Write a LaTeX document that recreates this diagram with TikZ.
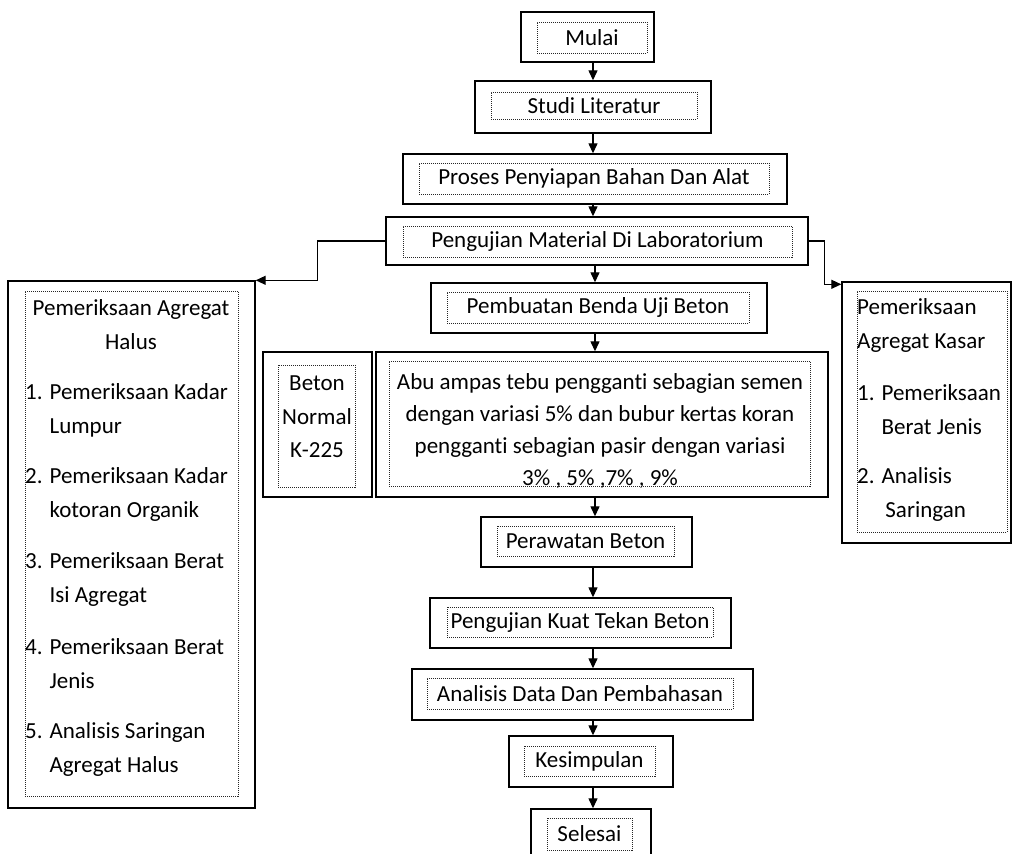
\documentclass[tikz,border=0pt]{standalone}
\usepackage{fontspec}
\setmainfont{Carlito}[Ligatures=NoCommon]
\usetikzlibrary{arrows.meta}
\begin{document}
\begin{tikzpicture}[x=1pt,y=-1pt,
  outerbox/.style={draw=black,line width=1.4pt,inner sep=0pt,minimum width=#1},
  innerbox/.style={draw=black!85,line width=0.9pt,dash pattern=on 1pt off 1pt,inner sep=0pt,minimum width=#1},
  txt/.style={inner sep=0pt,font=\fontsize{23}{34}\selectfont},
  arr/.style={line width=1.3pt,-{Triangle[length=10pt,width=9pt]}}
]
\useasboundingbox (0,0) rectangle (1012,854);
% main column
\node[outerbox=133,minimum height=50] (mulai) at (587.5,37) {};
\node[innerbox=110,minimum height=31,txt] (mulaiT) at (592,37.5) {Mulai};
\node[outerbox=236,minimum height=52] (studi) at (593,107) {};
\node[innerbox=206,minimum height=27,txt] (studiT) at (594,105.5) {Studi Literatur};
\node[outerbox=384,minimum height=50] (proses) at (595,179) {};
\node[innerbox=350,minimum height=31,txt] (prosesT) at (594,178.5) {Proses Penyiapan Bahan Dan Alat};
\node[outerbox=422,minimum height=48] (peng) at (597,241) {};
\node[innerbox=389,minimum height=31,txt] (pengT) at (597.5,241.5) {Pengujian Material Di Laboratorium};
\node[outerbox=336,minimum height=50] (buat) at (599,308) {};
\node[innerbox=302,minimum height=31,txt] (buatT) at (598,307.5) {Pembuatan Benda Uji Beton};
\node[outerbox=109,minimum height=145] (beton) at (317.5,424.5) {};
\node[innerbox=77,minimum height=122] (betonI) at (316.5,426) {};
\node[txt,align=center,font=\fontsize{23}{33.5}\selectfont] (betonT) at (317,417) {Beton\\Normal\\K-225};
\node[outerbox=452,minimum height=145] (abu) at (602,424.5) {};
\node[innerbox=421,minimum height=125] (abuI) at (599.5,423.5) {};
\node[txt,align=center,font=\fontsize{23}{32}\selectfont] (abuT) at (600,431) {Abu ampas tebu pengganti sebagian semen\\dengan variasi 5\% dan bubur kertas koran\\pengganti sebagian pasir dengan variasi\\3\% , 5\% ,7\% , 9\%};
\node[outerbox=211,minimum height=50] (rawat) at (586.5,542) {};
\node[innerbox=177,minimum height=30,txt] (rawatT) at (585.5,541) {Perawatan Beton};
\node[outerbox=301,minimum height=50] (kuat) at (580.5,623) {};
\node[innerbox=266,minimum height=30,txt] (kuatT) at (580,622) {Pengujian Kuat Tekan Beton};
\node[outerbox=341,minimum height=51] (anal) at (582.5,694.5) {};
\node[innerbox=306,minimum height=31,txt] (analT) at (580,693.5) {Analisis Data Dan Pembahasan};
\node[outerbox=164,minimum height=51] (simp) at (591,761.5) {};
\node[innerbox=131,minimum height=30,txt] (simpT) at (589.5,761) {Kesimpulan};
\node[outerbox=120,minimum height=61] (selesai) at (591,839.5) {};
\node[innerbox=85,minimum height=32,txt] (selesaiT) at (589.5,834) {Selesai};
% left box
\node[outerbox=247,minimum height=527] (lbox) at (131.5,544.5) {};
\node[innerbox=213,minimum height=505] (lboxI) at (131.5,543.5) {};
\node[txt,align=center] (lh) at (131,325) {Pemeriksaan Agregat\\Halus};
\node[txt,align=left,anchor=west] (l1) at (25,410) {1. Pemeriksaan Kadar\\\phantom{1. }Lumpur};
\node[txt,align=left,anchor=west] (l2) at (25,494) {2. Pemeriksaan Kadar\\\phantom{2. }kotoran Organik};
\node[txt,align=left,anchor=west] (l3) at (25,579) {3. Pemeriksaan Berat\\\phantom{3. }Isi Agregat};
\node[txt,align=left,anchor=west] (l4) at (25,664) {4. Pemeriksaan Berat\\\phantom{4. }Jenis};
\node[txt,align=left,anchor=west] (l5) at (25,749) {5. Analisis Saringan\\\phantom{5. }Agregat Halus};
% right box
\node[outerbox=169,minimum height=261] (rbox) at (926.5,412.5) {};
\node[innerbox=150,minimum height=241] (rboxI) at (932,411.5) {};
\node[txt,align=left,anchor=west] (rh) at (857,325) {Pemeriksaan\\Agregat Kasar};
\node[txt,align=left,anchor=west] (r1) at (857,410) {1. Pemeriksaan\\\phantom{1. }Berat Jenis};
\node[txt,align=left,anchor=west] (r2) at (857,494) {2. Analisis\\\phantom{2. }\,Saringan};
% arrows
\coordinate (ax) at (593,0);
\coordinate (bx) at (595,0);
\draw[arr] (mulai.south -| ax) -- (studi.north -| ax);
\draw[arr] (studi.south -| ax) -- (proses.north -| ax);
\draw[arr] (proses.south -| ax) -- (peng.north -| ax);
\draw[arr] (peng.south -| bx) -- (buat.north -| bx);
\draw[arr] (buat.south -| bx) -- (abu.north -| bx);
\draw[arr] (abu.south -| bx) -- (rawat.north -| bx);
\draw[arr] (rawat.south -| ax) -- (kuat.north -| ax);
\draw[arr] (kuat.south -| ax) -- (anal.north -| ax);
\draw[arr] (anal.south -| ax) -- (simp.north -| ax);
\draw[arr] (simp.south -| ax) -- (selesai.north -| ax);
\draw[arr] (peng.west) -- ++(-68,0) |- (lbox.north east);
\draw[arr] (peng.east) -- ++(16,0) |- ([yshift=-3pt]rbox.north west);
\end{tikzpicture}
\end{document}
